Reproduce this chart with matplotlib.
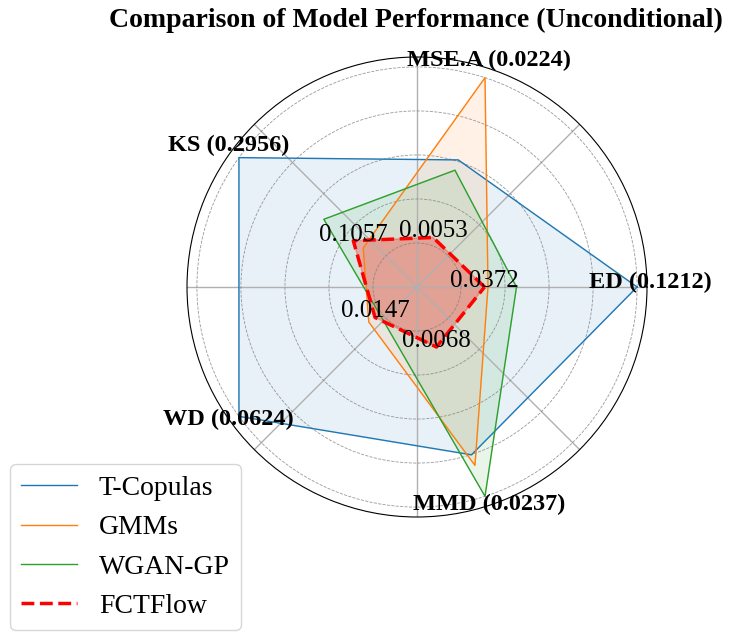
import numpy as np
import matplotlib
matplotlib.use("Agg")
import matplotlib.pyplot as plt

plt.rcParams['font.family'] = ['Liberation Serif', 'DejaVu Serif']

# metrics and the max value of each (shown in the labels)
metrics = ['ED', 'MSE.A', 'KS', 'WD', 'MMD']
max_vals = [0.1212, 0.0224, 0.2956, 0.0624, 0.0237]

# raw metric values per model
t_copulas = [0.1212, 0.0136, 0.2956, 0.0624, 0.0190]
gmms = [0.0391, 0.0224, 0.0893, 0.0169, 0.0202]
wgan_gp = [0.0548, 0.0125, 0.1547, 0.0131, 0.0237]
fctflow = [0.0372, 0.0053, 0.1057, 0.0147, 0.0068]

models = ['T-Copulas', 'GMMs', 'WGAN-GP', 'FCTFlow']
colors = ['#1f77b4', '#ff7f0e', '#2ca02c', 'red']

angles = np.linspace(0, 2 * np.pi, len(metrics), endpoint=False)
ang_closed = np.concatenate([angles, angles[:1]])

def norm(vals):
    v = np.array(vals) / np.array(max_vals)
    return np.concatenate([v, v[:1]])

fig = plt.figure(figsize=(7.33, 6.4), dpi=100)
ax = fig.add_axes([187 / 733, 1 - 517 / 640, 460 / 733, 460 / 640], polar=True)

for name, vals, c in zip(models[:3], [t_copulas, gmms, wgan_gp], colors[:3]):
    r = norm(vals)
    ax.plot(ang_closed, r, color=c, lw=1, label=name)
    ax.fill(ang_closed, r, color=c, alpha=0.1)

r = norm(fctflow)
ax.plot(ang_closed, r, color='red', lw=2.5, ls='--', label='FCTFlow')
ax.fill(ang_closed, r, color='red', alpha=0.27)

# value labels for FCTFlow
for a, rv, v in zip(angles, r[:-1], fctflow):
    ax.text(a, rv, f"{v:.4f}", ha='center', va='baseline', fontsize=18)

# metric labels
for a, m, mx in zip(angles, metrics, max_vals):
    ax.annotate(f"{m} ({mx:.4f})", xy=(a, 1.06), xytext=(0, 3.3),
                textcoords='offset points', ha='center', va='center',
                fontsize=17.5, fontweight='bold', annotation_clip=False)

ax.set_ylim(0, 1.045)
ax.set_yticks([0.2, 0.4, 0.6, 0.8, 1.0])
ax.set_yticklabels([])
ax.set_xticklabels([])
ax.yaxis.grid(True, ls='--', color='gray', lw=0.6, alpha=0.8)
ax.xaxis.grid(True, ls='-', color='#b0b0b0', lw=1)
ax.spines['polar'].set_color('black')

fig.text(416 / 733, 1 - 20 / 640, 'Comparison of Model Performance (Unconditional)',
         ha='center', va='center', fontsize=20, fontweight='bold')

fig.legend(loc='lower left', bbox_to_anchor=(10 / 733, 10 / 640), fontsize=20,
           borderaxespad=0)

fig.savefig('out.png', dpi=100)
